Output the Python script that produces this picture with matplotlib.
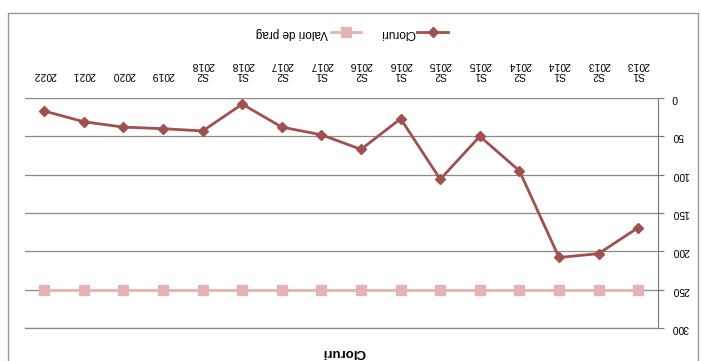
#
# Cloruri chart (scanned upside down, so everything is drawn rotated 180 deg)

import numpy as np
import matplotlib
matplotlib.use('Agg')
import matplotlib.pyplot as plt
from matplotlib.patches import Rectangle

# data, in the original chart order
perioade = ['S1\n2013', 'S2\n2013', 'S1\n2014', 'S2\n2014', 'S1\n2015',
            'S2\n2015', 'S1\n2016', 'S2\n2016', 'S1\n2017', 'S2\n2017',
            'S1\n2018', 'S2\n2018', '2019', '2020', '2021', '2022']
cloruri = [169, 203, 208, 95, 50, 106, 27, 67, 48, 38, 8, 43, 40, 38, 31, 17]
valori_prag = [250] * len(perioade)
y_ticks = [0, 50, 100, 150, 200, 250, 300]

c_clor = '#A0504E'
c_prag = '#E3B4B3'

plt.rcParams['font.family'] = ['Liberation Sans', 'DejaVu Sans']

fig = plt.figure(figsize=(7.01, 3.61), dpi=100)
ax = fig.add_axes([24.5 / 701, 33 / 361, (658 - 24.5) / 701, (328 - 98) / 361])

x = np.arange(len(perioade))
l_prag, = ax.plot(x, valori_prag, color=c_prag, lw=2, marker='s', ms=7,
                  mfc=c_prag, mec=c_prag, label='Valori de prag')
l_clor, = ax.plot(x, cloruri, color=c_clor, lw=2, marker='D', ms=5.5,
                  mfc=c_clor, mec=c_clor, label='Cloruri')

# flipped: first category on the right, 0 at the top
ax.set_xlim(len(perioade) - 0.5, -0.5)
ax.set_ylim(300, 0)
ax.set_yticks(y_ticks)
ax.yaxis.tick_right()
ax.xaxis.tick_top()
ax.set_xticks(x)
ax.set_xticklabels(perioade, rotation=180, fontsize=7.5, linespacing=1.05)
ax.set_yticklabels([str(v) for v in y_ticks], rotation=180, fontsize=7.5,
                   va='center')
ax.tick_params(axis='x', length=0, pad=13)
ax.tick_params(axis='y', length=4, color='#777777', pad=6)
ax.grid(axis='y', color='#8a8a8a', lw=0.9)
ax.set_axisbelow(True)
ax.spines['left'].set_visible(False)
ax.spines['bottom'].set_color('#8a8a8a')
ax.spines['bottom'].set_linewidth(0.9)
ax.spines['right'].set_color('#777777')
ax.spines['top'].set_color('#8a8a8a')

# title at the bottom, upside down
fig.text(344 / 701, 1 - 352 / 361, 'Cloruri', rotation=180, fontsize=9.5,
         fontweight='bold', ha='center', va='center')

# legend at the top, upside down
leg = fig.legend(handles=[l_prag, l_clor], loc='center',
                 bbox_to_anchor=(352 / 701, 1 - 33 / 361), ncol=2,
                 markerfirst=False, frameon=False, fontsize=8.5,
                 handlelength=2.6, columnspacing=1.6, handletextpad=0.2)
for t in leg.get_texts():
    t.set_rotation(180)

# outer chart border
fig.patches.append(Rectangle((8 / 701, -0.05), 690 / 701, 1.05 - 13 / 361,
                             transform=fig.transFigure, fill=False,
                             ec='#999999', lw=1))

plt.savefig('out.png', dpi=100)
